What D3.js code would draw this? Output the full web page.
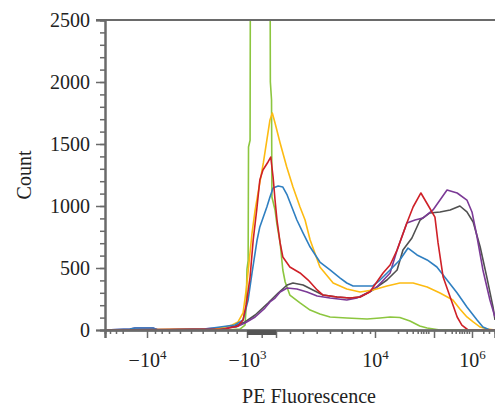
<!DOCTYPE html>
<html>
<head>
<meta charset="utf-8">
<script src="https://cdn.jsdelivr.net/npm/d3@7"></script>
<style>
  html, body { margin: 0; padding: 0; background: #fff; }
  svg { display: block; }
  text { font-family: "Liberation Serif", "Times New Roman", serif; fill: #222; }
</style>
</head>
<body>
<svg id="chart" width="495" height="414"></svg>
<script>
// ---- data (x in display channels 0..1000 of the biexponential axis, y = count) ----
const green = [[0,0],[320,2],[346,8],[359,40],[362,190],[364,490],[367,560],[368,1476],[372,1530],[373,3300],[423,3300],[424,2000],[427,1855],[428,1073],[436,968],[441,850],[449,703],[456,484],[462,387],[474,282],[500,218],[526,161],[551,129],[577,105],[620,97],[672,89],[705,97],[731,105],[756,101],[782,73],[807,32],[826,16],[859,0],[1000,0]];
const yellow = [[0,0],[282,8],[308,24],[326,40],[341,65],[354,137],[363,347],[370,565],[377,782],[385,968],[395,1153],[406,1347],[415,1532],[423,1694],[429,1750],[436,1669],[449,1508],[466,1315],[482,1153],[500,992],[513,887],[526,726],[551,508],[585,379],[620,331],[654,306],[687,323],[723,355],[756,379],[790,379],[826,347],[859,298],[892,242],[910,169],[928,105],[944,65],[962,24],[980,8],[1000,0]];
const red = [[0,0],[308,8],[341,32],[354,81],[362,202],[372,427],[380,726],[389,968],[397,1210],[405,1290],[418,1355],[425,1395],[431,1234],[436,1048],[441,887],[449,702],[456,589],[474,508],[500,460],[521,403],[544,323],[559,282],[595,266],[628,258],[654,266],[679,306],[713,460],[731,524],[749,645],[774,863],[790,992],[810,1105],[828,1008],[846,911],[854,702],[867,427],[885,266],[903,105],[915,40],[931,0],[1000,0]];
const blue = [[0,0],[64,8],[77,16],[123,16],[136,0],[256,8],[295,24],[333,40],[354,81],[367,242],[377,460],[390,726],[397,831],[415,992],[423,1073],[431,1145],[444,1161],[456,1153],[467,1089],[479,992],[492,887],[508,782],[526,669],[551,548],[577,484],[603,419],[620,379],[636,355],[687,355],[705,403],[731,484],[756,565],[777,661],[800,605],[826,565],[851,508],[877,403],[903,298],[928,185],[954,81],[969,24],[987,0],[1000,0]];
const purple = [[0,0],[64,8],[77,16],[123,16],[136,0],[244,8],[295,16],[336,24],[359,56],[385,105],[410,177],[423,226],[436,258],[449,306],[467,339],[492,331],[518,306],[544,274],[577,258],[620,242],[646,258],[672,298],[697,347],[731,460],[749,645],[774,863],[795,887],[815,903],[841,968],[859,1048],[877,1129],[903,1105],[928,1048],[941,952],[954,750],[969,484],[987,242],[1000,105]];
const gray = [[0,0],[295,8],[333,32],[359,65],[385,121],[418,218],[444,298],[467,363],[482,379],[508,363],[533,323],[559,282],[595,266],[628,258],[654,266],[687,323],[723,403],[749,484],[764,645],[787,742],[808,887],[833,944],[859,952],[885,968],[910,1000],[928,952],[944,871],[962,669],[979,427],[995,185],[1000,81]];

const yTicks = [0, 500, 1000, 1500, 2000, 2500];
const yMinor = d3.range(0, 2501, 100);
const xLabelTicks = [
  {ch: 107.7, base: "−10", exp: "4"},
  {ch: 364.1, base: "−10", exp: "3"},
  {ch: 692.3, base: "10",  exp: "4"},
  {ch: 941.0, base: "10",  exp: "6"}
];
const xMajorUnlabeled = [401.8, 438.5, 843.6];
const xMinor = [12.8, 28.2, 45.4, 128.2, 145.4, 164.1, 192.3, 220.5, 250.5, 282, 314.6, 337.7,
  474.4, 507.7, 542.8, 576.9, 606.9, 635.9, 658.2, 679.5,
  751.3, 773.6, 789, 801.8, 810.3, 816.2, 823.1, 829,
  871.8, 889, 899.2, 908.5, 914.6, 920.5, 927.4, 933.3, 970, 984.6];
const linearBlock = [364.1, 438.5];

const series = [
  {name: "green",  data: green,  color: "#8cc63f"},
  {name: "gray",   data: gray,   color: "#505050"},
  {name: "purple", data: purple, color: "#7b3a96"},
  {name: "yellow", data: yellow, color: "#fdbb12"},
  {name: "blue",   data: blue,   color: "#2f7fc1"},
  {name: "red",    data: red,    color: "#cf2027"}
];

(function draw() {
  const W = 495, H = 414;
  const pL = 105, pR = 495, pT = 20, pB = 330;
  const axisColor = "#6a6a6a";

  const svg = d3.select("#chart");
  const x = d3.scaleLinear().domain([0, 1000]).range([pL, pR]);
  const y = d3.scaleLinear().domain([0, 2500]).range([pB, pT]);

  svg.append("defs").append("clipPath").attr("id", "plotclip")
    .append("rect").attr("x", pL).attr("y", pT).attr("width", pR - pL).attr("height", pB - pT + 1);

  const line = d3.line().x(d => x(d[0])).y(d => y(d[1]));
  const g = svg.append("g").attr("clip-path", "url(#plotclip)");
  series.forEach(s => {
    g.append("path").datum(s.data)
      .attr("d", line)
      .attr("fill", "none")
      .attr("stroke", s.color)
      .attr("stroke-width", 1.6)
      .attr("stroke-linejoin", "round");
  });

  svg.append("line").attr("x1", pL - 9).attr("x2", pR).attr("y1", pT).attr("y2", pT)
    .attr("stroke", axisColor).attr("stroke-width", 2);

  const yMinorAxis = svg.append("g").attr("transform", `translate(${pL},0)`)
    .call(d3.axisLeft(y).tickValues(yMinor).tickSize(5).tickFormat(""));
  const yAxis = svg.append("g").attr("transform", `translate(${pL},0)`)
    .call(d3.axisLeft(y).tickValues(yTicks).tickSize(9).tickPadding(6).tickFormat(d3.format("d")));
  [yMinorAxis, yAxis].forEach(a => {
    a.select(".domain").attr("stroke", axisColor).attr("stroke-width", 2);
    a.selectAll(".tick line").attr("stroke", axisColor).attr("stroke-width", 1.5);
  });
  yAxis.selectAll(".tick text").attr("font-size", 20).attr("fill", "#222")
    .attr("font-family", "Liberation Serif, serif");

  const xMinorAxis = svg.append("g").attr("transform", `translate(0,${pB})`)
    .call(d3.axisBottom(x).tickValues(xMinor).tickSize(4).tickFormat(""));
  const xMajAxis = svg.append("g").attr("transform", `translate(0,${pB})`)
    .call(d3.axisBottom(x).tickValues(xMajorUnlabeled).tickSize(8).tickFormat(""));
  const xAxis = svg.append("g").attr("transform", `translate(0,${pB})`)
    .call(d3.axisBottom(x).tickValues(xLabelTicks.map(d => d.ch)).tickSize(8).tickFormat(""));
  [xMinorAxis, xMajAxis, xAxis].forEach(a => {
    a.select(".domain").attr("stroke", axisColor).attr("stroke-width", 2);
    a.selectAll(".tick line").attr("stroke", axisColor).attr("stroke-width", 1.5);
  });
  svg.append("rect")
    .attr("x", x(linearBlock[0])).attr("y", pB)
    .attr("width", x(linearBlock[1]) - x(linearBlock[0])).attr("height", 5)
    .attr("fill", "#555");

  xAxis.selectAll(".tick").each(function(d, i) {
    const t = d3.select(this).select("text");
    const lab = xLabelTicks[i];
    t.text(null).attr("font-size", 20).attr("fill", "#222").attr("y", 37).attr("dy", 0)
      .attr("font-family", "Liberation Serif, serif");
    t.append("tspan").text(lab.base);
    t.append("tspan").text(lab.exp).attr("font-size", 13).attr("dy", -8);
  });

  svg.append("text").attr("x", 309).attr("y", 403).attr("text-anchor", "middle")
    .attr("font-size", 20).text("PE Fluorescence");
  svg.append("text").attr("transform", "translate(31,175) rotate(-90)")
    .attr("text-anchor", "middle").attr("font-size", 20).text("Count");
})();
</script>
</body>
</html>
